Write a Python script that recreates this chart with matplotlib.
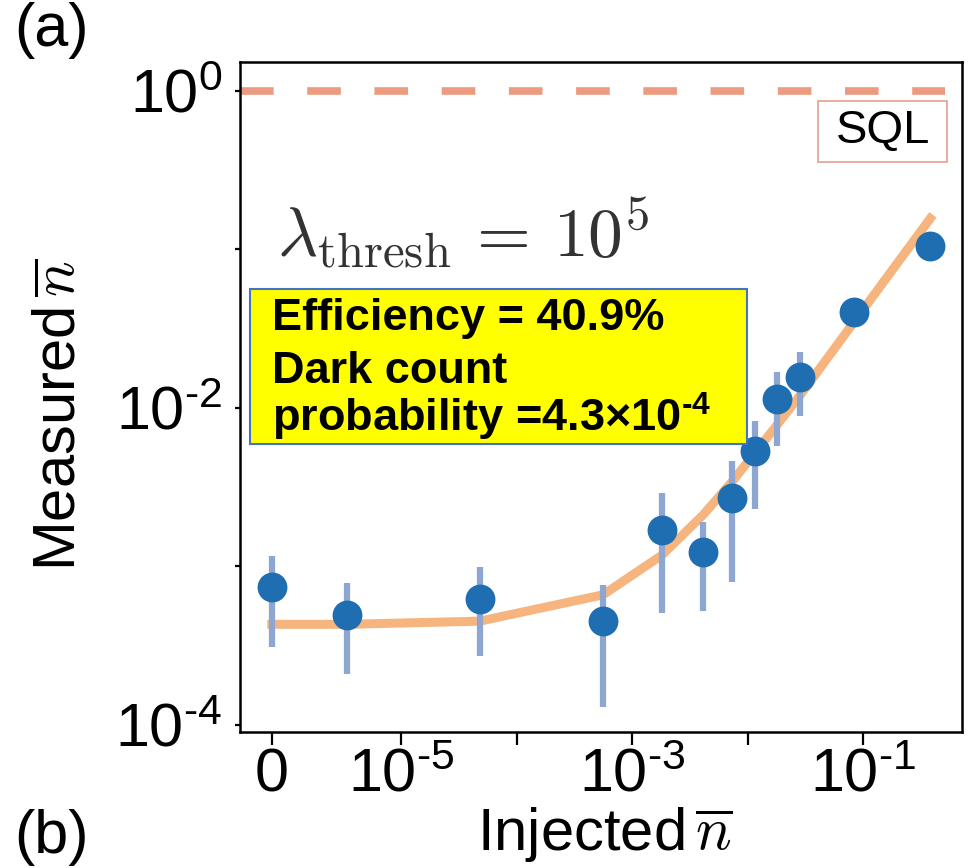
import numpy as np
import matplotlib.pyplot as plt
from matplotlib.patches import Rectangle
from matplotlib.ticker import FixedLocator, NullFormatter

plt.rcParams['font.family'] = ['Liberation Sans', 'DejaVu Sans']
plt.rcParams['mathtext.fontset'] = 'custom'
plt.rcParams['mathtext.rm'] = 'Liberation Sans'
plt.rcParams['mathtext.it'] = 'Liberation Sans:italic'
plt.rcParams['mathtext.bf'] = 'Liberation Sans:bold'

# injected mean photon number (0 = nothing injected)
injected = np.array([0, 3.4e-6, 4.8e-5, 5.6e-4, 1.8e-3, 4.1e-3, 7.3e-3,
                     1.16e-2, 1.8e-2, 2.85e-2, 8.4e-2, 0.38])
measured = np.array([7.4e-4, 4.9e-4, 6.2e-4, 4.5e-4, 1.7e-3, 1.23e-3, 2.7e-3,
                     5.3e-3, 1.14e-2, 1.57e-2, 4.0e-2, 0.104])
err_hi = np.array([1.16e-3, 7.8e-4, 9.9e-4, 7.6e-4, 2.9e-3, 1.9e-3, 4.6e-3,
                   8.2e-3, 1.69e-2, 2.25e-2, 4.6e-2, 0.115])
err_lo = np.array([3.1e-4, 2.1e-4, 2.7e-4, 1.3e-4, 5.1e-4, 5.2e-4, 8.0e-4,
                   2.3e-3, 5.7e-3, 8.8e-3, 3.4e-2, 0.094])
fit = np.array([4.3e-4, 4.3e-4, 4.5e-4, 6.6e-4, 1.17e-3, 2.1e-3, 3.4e-3,
                5.2e-3, 7.8e-3, 1.2e-2, 3.5e-2, 0.156])
sql = 1.0

HY = '\u2010'  # short hyphen, like the original labels
xtick_vals = [0, 1e-5, 1e-3, 1e-1]
xtick_labels = ['0', '$10^{%s5}$' % HY, '$10^{%s3}$' % HY, '$10^{%s1}$' % HY]
ytick_vals = [1e0, 1e-2, 1e-4]
ytick_labels = ['$10^{0}$', '$10^{%s2}$' % HY, '$10^{%s4}$' % HY]

# where "0" sits on the log axis
zero_x = 10 ** -6.117
xp = np.where(injected == 0, zero_x, injected)

fig = plt.figure(figsize=(9.71, 8.68), dpi=100)
ax = fig.add_axes([0.247, 0.157, 0.744, 0.771])
ax.set_xscale('log')
ax.set_yscale('log')

ax.axhline(sql, xmin=0, xmax=0.9765, color='#ec9a80', lw=5.5,
           dashes=(4.4, 4.4), solid_capstyle='butt', zorder=1)
ax.plot(xp, fit, color='#f6b57e', lw=6.5, solid_joinstyle='round', zorder=1)
ax.errorbar(xp, measured, yerr=[measured - err_lo, err_hi - measured],
            fmt='none', ecolor='#8ea6d2', elinewidth=4.5, capsize=0, zorder=2)
ax.plot(xp, measured, 'o', ms=21.5, color='#1f6eb2', mec='none', zorder=3)

ax.set_xlim(10 ** -6.394, 10 ** -0.143)
ax.set_ylim(10 ** -4.044, 10 ** 0.177)

xt = [zero_x if v == 0 else v for v in xtick_vals]
ax.xaxis.set_major_locator(FixedLocator(xt))
ax.set_xticklabels(xtick_labels)
ax.xaxis.set_minor_locator(FixedLocator([1e-4, 1e-2]))
ax.xaxis.set_minor_formatter(NullFormatter())
ax.yaxis.set_major_locator(FixedLocator(ytick_vals))
ax.set_yticklabels(ytick_labels)
ax.yaxis.set_minor_locator(FixedLocator([1e-1, 1e-3]))
ax.yaxis.set_minor_formatter(NullFormatter())

ax.tick_params(axis='x', which='both', length=9.4, width=1.6, pad=2,
               labelsize=44, direction='out')
ax.tick_params(axis='y', which='both', length=3.6, width=1.6, pad=9,
               labelsize=44, direction='out')
for s in ax.spines.values():
    s.set_linewidth(1.8)

ax.set_ylabel(r'Measured$\,\overline{n}$', fontsize=43, va='center',
              math_fontfamily='cm')
ax.yaxis.set_label_coords(-0.25, 0.474)
ax.set_xlabel(r'Injected$\,\overline{n}$', fontsize=43, va='center',
              math_fontfamily='cm')
ax.xaxis.set_label_coords(0.505, -0.153)

# SQL tag
ax.add_patch(Rectangle((0.8006, 0.852), 0.1787, 0.0912, transform=ax.transAxes,
                       fc='white', ec='#e3a08a', lw=1.2, zorder=4))
ax.text(0.890, 0.8976, 'SQL', transform=ax.transAxes, ha='center',
        va='center', fontsize=34, zorder=5)

ax.text(0.051, 0.71, r'$\lambda_{\rm thresh}\,=\,10^5$', transform=ax.transAxes,
        fontsize=50, va='baseline', color='#333333', math_fontfamily='cm')

ax.add_patch(Rectangle((0.0139, 0.4305), 0.688, 0.2317, transform=ax.transAxes,
                       fc='#ffff00', ec='#4472c4', lw=1.5, zorder=5))
box_lines = ['Efficiency = 40.9%', 'Dark count',
             'probability =4.3\u00d710$^{\\mathbf{%s4}}$' % HY]
for line, yy in zip(box_lines, [0.601, 0.5217, 0.4484]):
    ax.text(0.0443, yy, line, transform=ax.transAxes, fontsize=32.5,
            fontweight='bold', va='baseline', zorder=6)

fig.text(0.015, 0.998, '(a)', fontsize=44, va='top', ha='left')
fig.text(0.015, 0.002, '(b)', fontsize=44, va='bottom', ha='left')

plt.savefig('out.png', dpi=100)
